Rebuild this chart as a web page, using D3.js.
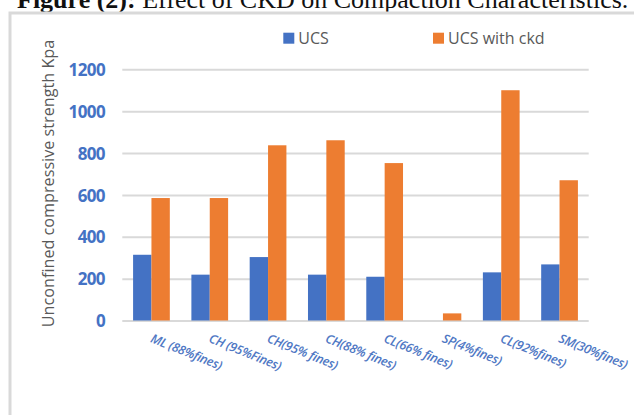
<!DOCTYPE html>
<html>
<head>
<meta charset="utf-8">
<script src="https://cdn.jsdelivr.net/npm/d3@7"></script>
<style>
  html, body { margin: 0; padding: 0; background: #fff; }
  svg { display: block; }
</style>
</head>
<body>
<svg id="chart" width="634" height="415"></svg>
<script>
const categories = ["ML (88%fines)", "CH (95%Fines)", "CH(95% fines)", "CH(88% fines)", "CL(66% fines)", "SP(4%fines)", "CL(92%fines)", "SM(30%fines)"];
const seriesNames = ["UCS", "UCS with ckd"];
const ucsValues = [314, 219, 303, 219, 209, 0, 230, 268];
const ckdValues = [585, 585, 837, 861, 752, 34, 1100, 670];
const yTicks = [0, 200, 400, 600, 800, 1000, 1200];
const colors = ["#4472C4", "#ED7D31"];

const svg = d3.select("#chart");

// Title (clipped at top of page, as in the reference)
const title = svg.append("text")
  .attr("x", 17).attr("y", 8)
  .attr("font-family", "'Liberation Serif', 'Times New Roman', serif")
  .attr("font-size", 26)
  .attr("fill", "#111");
title.append("tspan").attr("font-weight", "bold").text("Figure (2):");
title.append("tspan").text(" Effect of CKD on Compaction Characteristics.");

// Frame
svg.append("rect")
  .attr("x", 10).attr("y", 13)
  .attr("width", 700).attr("height", 500)
  .attr("fill", "none")
  .attr("stroke", "#d9d9d9")
  .attr("stroke-width", 3);

const x0 = d3.scaleBand().domain(categories).range([122.3, 588.7]).paddingInner(0.37).paddingOuter(0.185);
const x1 = d3.scaleBand().domain(seriesNames).range([0, x0.bandwidth()]);
const y = d3.scaleLinear().domain([0, 1200]).range([320.5, 69.3]);

// Gridlines
const grid = svg.append("g")
  .attr("transform", "translate(122.3,0)")
  .call(d3.axisLeft(y).tickValues(yTicks).tickSize(-(588.7 - 122.3)).tickFormat(""));
grid.select(".domain").remove();
grid.selectAll(".tick line").attr("stroke", "#d9d9d9").attr("stroke-width", 2);

// Y tick labels
const yAxis = svg.append("g")
  .attr("transform", "translate(105,0)")
  .call(d3.axisLeft(y).tickValues(yTicks).tickSize(0).tickPadding(0).tickFormat(d3.format("d")));
yAxis.select(".domain").remove();
yAxis.selectAll("text")
  .attr("font-family", "'Open Sans', sans-serif")
  .attr("font-weight", "bold")
  .attr("font-size", 17)
  .attr("letter-spacing", -0.6)
  .attr("fill", "#4472C4")
  .attr("dy", "0.36em");

// Bars
const data = categories.map((c, i) => ({ cat: c, vals: [ucsValues[i], ckdValues[i]] }));
const groups = svg.append("g").selectAll("g").data(data).join("g")
  .attr("transform", d => `translate(${x0(d.cat)},0)`);
groups.selectAll("rect")
  .data(d => d.vals.map((v, j) => ({ key: seriesNames[j], v, j })))
  .join("rect")
  .attr("x", d => x1(d.key))
  .attr("width", x1.bandwidth())
  .attr("y", d => y(d.v))
  .attr("height", d => y(0) - y(d.v))
  .attr("fill", d => colors[d.j]);

// X axis labels
const xAxis = svg.append("g")
  .attr("transform", `translate(0,${y(0)})`)
  .call(d3.axisBottom(x0).tickSize(0).tickPadding(0));
xAxis.select(".domain").remove();
xAxis.selectAll("text")
  .attr("font-family", "'Open Sans', sans-serif")
  .attr("font-style", "italic")
  .attr("font-weight", 600)
  .attr("font-size", 12.5)
  .attr("letter-spacing", -0.3)
  .attr("fill", "#4f78c4")
  .attr("text-anchor", "start")
  .attr("dy", null)
  .attr("y", null)
  .attr("transform", "translate(2,12) rotate(22) translate(0,10)");

// Y axis title
svg.append("text")
  .attr("transform", "translate(54,183.5) rotate(-90)")
  .attr("text-anchor", "middle")
  .attr("font-family", "'Open Sans', sans-serif")
  .attr("font-size", 16.2)
  .attr("fill", "#595959")
  .text("Unconfined compressive strength Kpa");

// Legend
const legendX = [283.3, 433];
const legend = svg.append("g").selectAll("g").data(seriesNames).join("g")
  .attr("transform", (d, i) => `translate(${legendX[i]},32.7)`);
legend.append("rect").attr("width", 11).attr("height", 11).attr("fill", (d, i) => colors[i]);
legend.append("text")
  .attr("x", 15).attr("y", 10.8)
  .attr("font-family", "'Open Sans', sans-serif")
  .attr("font-size", 16)
  .attr("fill", "#595959")
  .text(d => d);
</script>
</body>
</html>
